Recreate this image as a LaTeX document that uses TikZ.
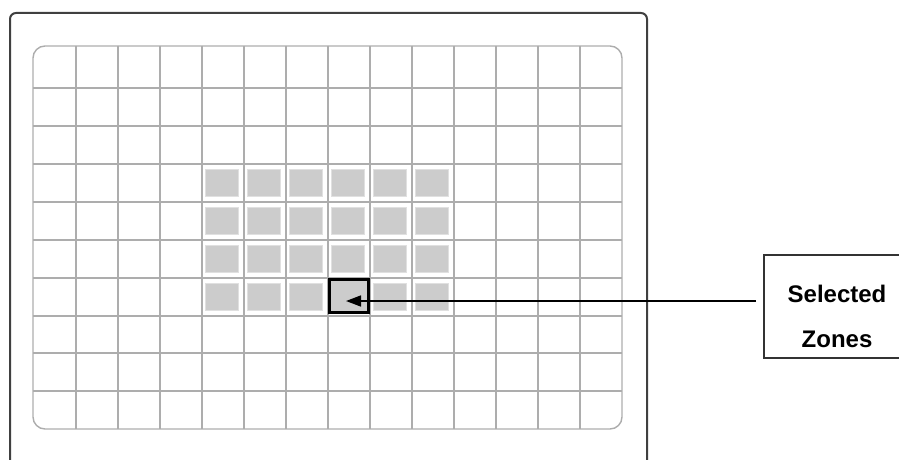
\documentclass[tikz,border=0pt]{standalone}
\usepackage{fontspec}
\setmainfont{Liberation Sans}
\usetikzlibrary{arrows.meta}

\begin{document}
\begin{tikzpicture}[
  x=0.5pt, y=-0.5pt,
  frame/.style={draw=black!75, line width=1pt, rounded corners=3pt},
  gridline/.style={draw=black!32, line width=0.7pt},
  zone/.style={rectangle, draw=black!12, line width=0.6pt, fill=black!20, inner sep=0pt,
    minimum width=16.5pt, minimum height=13.5pt},
  selzone/.style={zone, draw=black, line width=1.5pt, minimum width=19.5pt, minimum height=16.5pt},
  arrow/.style={-{Triangle[length=7.5pt, width=5.5pt]}, line width=0.8pt, draw=black},
  lblbox/.style={draw=black!80, line width=0.8pt},
  lbl/.style={font=\bfseries\fontsize{12}{22.5}\selectfont, align=center, inner sep=0pt}]
  \useasboundingbox (0,0) rectangle (899,460);
  % Camera frame, open at the bottom
  \draw[frame] (10,470) -- (10,13) -- (647,13) -- (647,470);
  % Metering grid
  \draw[gridline, rounded corners=6pt] (33,46) rectangle (622,429);
  \foreach \gx in {76,118,...,580}
    \draw[gridline] (\gx,46) -- (\gx,429);
  \foreach \gy in {88,126,164,202,240,278,316,353,391}
    \draw[gridline] (33,\gy) -- (622,\gy);
  % Shaded zones
  \foreach \cx in {5,...,10}
    \foreach \cy in {4,...,7}
      \node[zone] (z-\cx-\cy) at ({12+42*\cx},{31+38*\cy}) {};
  \node[selzone] (sel) at (349,296) {};
  % Label
  \node[lbl] (zones) at (837,316) {Selected\\Zones};
  \draw[lblbox] (900,255) -| (764,358) -- (900,358);
  \coordinate (tail) at (756,301);
  \draw[arrow, shorten >=-1.5pt] (tail) -- (tail -| sel.center);
\end{tikzpicture}
\end{document}
